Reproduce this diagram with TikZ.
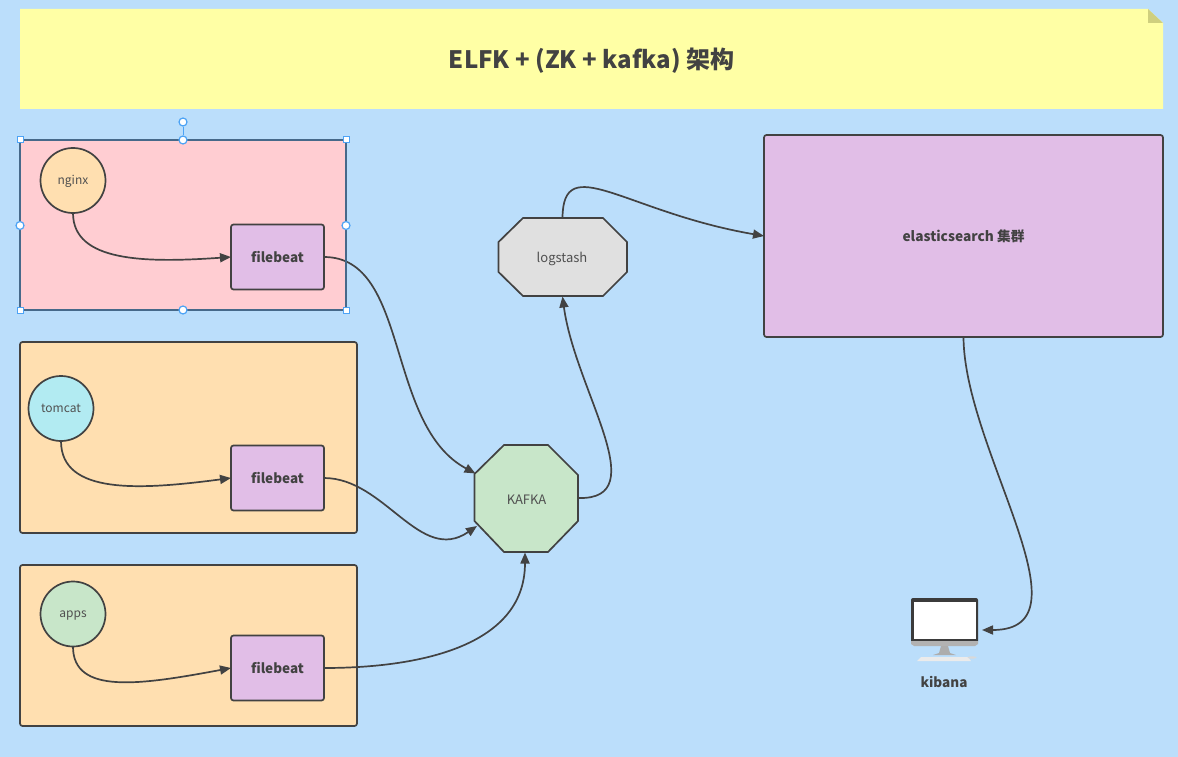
\documentclass[tikz,border=0pt]{standalone}
\usepackage{fontspec}
\setmainfont{Noto Sans CJK SC}
\usetikzlibrary{arrows.meta}
\definecolor{bg}{HTML}{BBDEFB}
\definecolor{ink}{HTML}{424242}
\definecolor{txt}{HTML}{505050}
\definecolor{yel}{HTML}{FFFFA5}
\definecolor{fold}{HTML}{CFCF7E}
\definecolor{pinkc}{HTML}{FFCDD2}
\definecolor{orangec}{HTML}{FFDFB0}
\definecolor{purplec}{HTML}{E1BEE7}
\definecolor{greenc}{HTML}{C8E6C9}
\definecolor{cyanc}{HTML}{B2EBF2}
\definecolor{grayc}{HTML}{E0E0E0}
\definecolor{sel}{HTML}{4DA3F5}
\tikzset{
 x=1pt,y=-1pt,
 boxs/.style={draw=ink,line width=1.7pt,rounded corners=2.5pt,inner sep=0pt,outer sep=0pt,anchor=north west},
 circs/.style={circle,draw=ink,line width=1.7pt,outer sep=0pt,minimum size=65pt,inner sep=0pt,text height=7pt,text depth=0pt,font=\fontsize{12}{14}\selectfont,text=txt},
 beat/.style={boxs,anchor=center,fill=purplec,minimum width=93pt,minimum height=65pt,font=\fontsize{13.5}{16}\selectfont\bfseries,text=ink},
 shapeline/.style={draw=ink,line width=1.7pt},
 plain/.style={inner sep=0pt,font=\fontsize{13}{14}\selectfont,text=txt},
 conn/.style={draw=ink,line width=1.7pt,-{Triangle[length=11pt,width=9pt]}},
 hsq/.style={rectangle,draw=sel,fill=white,line width=1pt,minimum size=6pt,inner sep=0pt},
 hci/.style={circle,draw=sel,fill=white,line width=1.2pt,minimum size=8pt,inner sep=0pt},
}
\begin{document}
\begin{tikzpicture}
\useasboundingbox (0,0) rectangle (1178,757);
\fill[bg] (0,0) rectangle (1178,757);
% title note
\fill[yel] (20,9) -- (1148,9) -- (1163,23) -- (1163,109) -- (20,109) -- cycle;
\fill[fold] (1148,9) -- (1163,23) -- (1148,23) -- cycle;
\node[inner sep=0pt,font=\fontsize{24}{26}\selectfont\bfseries,text=ink] (title) at (591.5,60.5) {ELFK + (ZK + kafka) 架构};
% containers
\node[boxs,rounded corners=0pt,fill=pinkc,minimum width=326pt,minimum height=170pt] (g1) at (20,140) {};
\node[boxs,fill=orangec,minimum width=337pt,minimum height=191pt] (g2) at (20,342) {};
\node[boxs,fill=orangec,minimum width=337pt,minimum height=161pt] (g3) at (20,565) {};
% services
\node[circs,fill=orangec] (nginx) at (73,180.5) {nginx};
\node[circs,fill=cyanc] (tomcat) at (61,408.5) {tomcat};
\node[circs,fill=greenc] (apps) at (73,614) {apps};
\node[beat] (fb1) at (277.5,257) {filebeat};
\node[beat] (fb2) at (277.5,478) {filebeat};
\node[beat] (fb3) at (277.5,668) {filebeat};
% octagons
\filldraw[shapeline,fill=greenc] (504,445) -- (548,445) -- (578,475) -- (578,521) -- (548,552) -- (504,552) -- (474.5,521) -- (474.5,474) -- cycle;
\node[plain] (kafka) at (526.5,500) {KAFKA};
\coordinate (kafkaA) at (475.5,473.5);
\coordinate (kafkaB) at (477,526);
\coordinate (kafkaC) at (525,552.5);
\coordinate (kafkaD) at (578.5,498);
\filldraw[shapeline,fill=grayc] (523,218) -- (603,218) -- (627,242) -- (627,272) -- (603,296) -- (523,296) -- (498.5,272) -- (498.5,242) -- cycle;
\node[plain] (logstash) at (562,259) {logstash};
\coordinate (logT) at (562.5,218);
\coordinate (logB) at (562.5,296.5);
% elasticsearch
\node[boxs,fill=purplec,minimum width=399pt,minimum height=202pt,font=\fontsize{13.7}{15}\selectfont\bfseries,text=ink] (es) at (764,135) {elasticsearch 集群};
% kibana monitor
\fill[ink!90!black] (911,600) arc[start angle=180,end angle=270,radius=2] -- (976,598) arc[start angle=270,end angle=360,radius=2] -- (978,641) -- (911,641) -- cycle;
\fill[white] (913.5,602) rectangle (976,639);
\fill[black!30] (911,641) -- (978,641) -- (978,644) -- (975,646) -- (914,646) -- (911,644) -- cycle;
\fill[black!32] (941,646) -- (948,646) -- (950,653) -- (956,655) -- (933,655) -- (939,653) -- cycle;
\fill[white!92!black] (921,657) -- (968,657) -- (971,661) -- (917,661) -- cycle;
\fill[white!85!black] (972,657.5) ellipse[x radius=4.5,y radius=1.2];
\node[inner sep=0pt,font=\fontsize{13.5}{16}\selectfont\bfseries,text=ink] (kibana) at (944,682) {kibana};
\coordinate (kibIn) at (982,630);
% connectors
\draw[conn] (nginx.south) .. controls (73,262) and (145,263) .. (fb1.west);
\draw[conn] (tomcat.south) .. controls (61,495) and (140,490) .. (fb2.west);
\draw[conn] (apps.south) .. controls (73,695) and (140,685) .. (fb3.west);
\draw[conn] (fb1.east) .. controls (410,257) and (385,425) .. (kafkaA);
\draw[conn] (fb2.east) .. controls (385,478) and (420,565) .. (kafkaB);
\draw[conn] (fb3.east) .. controls (410,668) and (525,650) .. (kafkaC);
\draw[conn] (kafkaD) .. controls (655,500) and (575,390) .. (logB);
\draw[conn] (logT) .. controls (563,150) and (625,212) .. (es.west);
\draw[conn] (es.south) .. controls (964,450) and (1095,630) .. (kibIn);
% selection outline and handles
\draw[draw=ink!60!sel,line width=1.7pt] (g1.north west) rectangle (g1.south east);
\node[hci] (rot) at (183,122) {};
\node[hci] (hT) at (183,140) {};
\draw[sel,line width=1pt] (rot) -- (hT);
\node[hsq] (hNW) at (20,140) {};
\node[hsq] (hNE) at (346,140) {};
\node[hsq] (hSW) at (20,310) {};
\node[hsq] (hSE) at (346,310) {};
\node[hci] (hB) at (183,310) {};
\node[hci] (hL) at (20,225.5) {};
\node[hci] (hR) at (346,225.5) {};
\end{tikzpicture}
\end{document}
